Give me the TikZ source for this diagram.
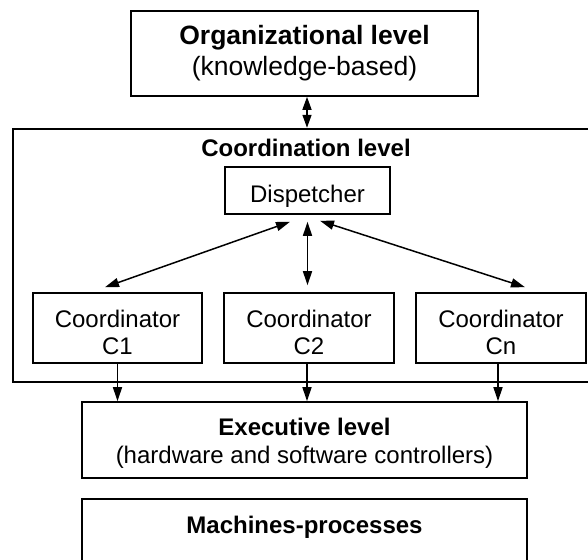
\documentclass[tikz,border=0pt]{standalone}
\usepackage{fontspec}
\setmainfont{Liberation Sans}
\usetikzlibrary{arrows.meta}
\begin{document}
\begin{tikzpicture}[x=1pt,y=-1pt,
  box/.style={draw, line width=1.6pt, inner sep=0pt, rectangle},
  bigb/.style={font=\fontsize{26.5}{32}\selectfont\bfseries, anchor=base, inner sep=0pt},
  bigr/.style={font=\fontsize{26.5}{32}\selectfont, anchor=base, inner sep=0pt},
  txtb/.style={font=\fontsize{24}{29}\selectfont\bfseries, anchor=base, inner sep=0pt},
  txtr/.style={font=\fontsize{24}{29}\selectfont, anchor=base, inner sep=0pt},
  arr/.style={line width=1.5pt, -{Triangle[length=14pt,width=9pt]}},
  darr/.style={line width=1.5pt, {Triangle[length=14pt,width=9pt]}-{Triangle[length=14pt,width=9pt]}},
  sdarr/.style={line width=1.5pt, {Triangle[length=13pt,width=9pt]}-{Triangle[length=13pt,width=9pt]}}
]
\useasboundingbox (0,0) rectangle (588,559);
\clip (0,0) rectangle (588,559);

% boxes
\node[box, minimum width=347pt, minimum height=85pt] (org) at (304.5,53.5) {};
\node[box, line width=1.8pt, minimum width=607pt, minimum height=253.3pt] (coord) at (316.5,255.3) {};
\node[box, minimum width=165pt, minimum height=47pt] (disp) at (307.5,190.5) {};
\node[box, minimum width=169pt, minimum height=70pt] (c1) at (117.5,328) {};
\node[box, minimum width=170pt, minimum height=70pt] (c2) at (309,328) {};
\node[box, minimum width=170pt, minimum height=70pt] (cn) at (501,328) {};
\node[box, minimum width=445pt, minimum height=76pt] (exec) at (304.5,440) {};
\node[box, minimum width=445pt, minimum height=100pt] (mach) at (304.5,549) {};

% texts
\node[bigb] (orgt1) at (304.5,45) {Organizational level};
\node[bigr] (orgt2) at (304.5,76) {(knowledge-based)};
\node[txtb] (coordt) at (306,156) {Coordination level};
\node[txtr] (dispt) at (307.5,202) {Dispetcher};
\node[txtr] (c1t1) at (117.5,327) {Coordinator};
\node[txtr] (c1t2) at (117.5,354) {C1};
\node[txtr] (c2t1) at (309,327) {Coordinator};
\node[txtr] (c2t2) at (309,354) {C2};
\node[txtr] (cnt1) at (501,327) {Coordinator};
\node[txtr] (cnt2) at (501,354) {Cn};
\node[txtb] (exect1) at (304.5,435) {Executive level};
\node[txtr] (exect2) at (304.5,463) {(hardware and software controllers)};
\node[txtb] (macht) at (304.5,533) {Machines-processes};

% connectors
\draw[sdarr] ([xshift=2.5pt]org.south) -- ([xshift=2.5pt]org.south |- coord.north);
\draw[darr] ([xshift=-17.5pt,yshift=-7pt]disp.south) -- ([xshift=-12.5pt,yshift=5pt]c1.north);
\draw[darr] ([yshift=-7pt]disp.south) -- ([yshift=7pt]disp.south |- c2.north);
\draw[darr] ([xshift=12.5pt,yshift=-6pt]disp.south) -- ([xshift=24pt,yshift=5pt]cn.north);
\draw[arr] (c1.south) -- (c1.south |- exec.north);
\draw[arr] ([xshift=-2pt]c2.south) -- ([xshift=-2pt]c2.south |- exec.north);
\draw[arr] ([xshift=-3pt]cn.south) -- ([xshift=-3pt]cn.south |- exec.north);
\end{tikzpicture}
\end{document}
